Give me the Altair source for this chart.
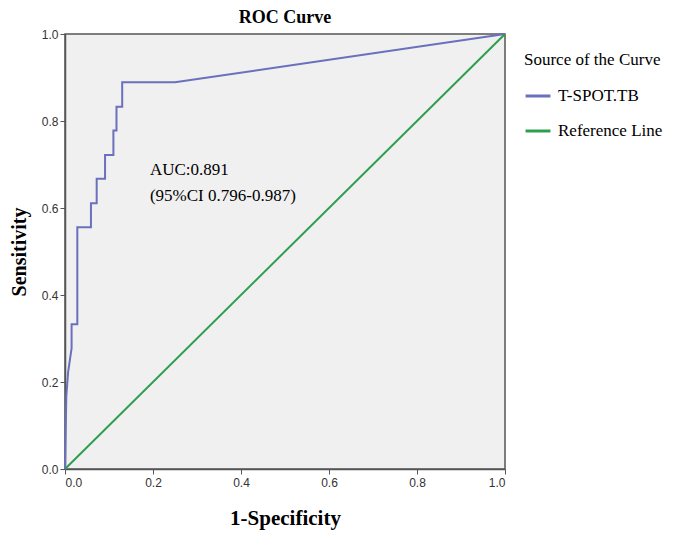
import altair as alt
import pandas as pd

# ROC curve points (1-Specificity, Sensitivity)
roc_fpr = [0.0, 0.003, 0.007, 0.015, 0.015, 0.028, 0.028, 0.059, 0.059, 0.072, 0.072,
           0.091, 0.091, 0.110, 0.110, 0.117, 0.117, 0.130, 0.130, 0.250, 1.0]
roc_tpr = [0.0, 0.167, 0.222, 0.278, 0.333, 0.333, 0.556, 0.556, 0.611, 0.611, 0.667,
           0.667, 0.722, 0.722, 0.778, 0.778, 0.833, 0.833, 0.889, 0.889, 1.0]
ref_fpr = [0.0, 1.0]
ref_tpr = [0.0, 1.0]
series_names = ["T-SPOT.TB", "Reference Line"]
series_colors = ["#6a70bc", "#2e9e4e"]
auc_lines = ["AUC:0.891", "(95%CI 0.796-0.987)"]

rows = []
for i, (x, y) in enumerate(zip(roc_fpr, roc_tpr)):
    rows.append({"x": x, "y": y, "series": series_names[0], "ord": i})
for i, (x, y) in enumerate(zip(ref_fpr, ref_tpr)):
    rows.append({"x": x, "y": y, "series": series_names[1], "ord": i})
df = pd.DataFrame(rows)

serif = "Liberation Serif"
sans = "Liberation Sans"

lines = alt.Chart(df).mark_line(strokeWidth=2).encode(
    x=alt.X("x:Q", scale=alt.Scale(domain=[0, 1], nice=False),
            axis=alt.Axis(values=[0, 0.2, 0.4, 0.6, 0.8, 1.0], format=".1f",
                          title="1-Specificity", titleFont=serif, titleFontSize=21,
                          titleFontWeight="bold", titleColor="black", titlePadding=19,
                          labelFont=sans, labelFontSize=12, labelColor="#333",
                          tickColor="#555", tickSize=5, domainColor="#555",
                          domainWidth=1.5, grid=False, labelPadding=3)),
    y=alt.Y("y:Q", scale=alt.Scale(domain=[0, 1], nice=False),
            axis=alt.Axis(values=[0, 0.2, 0.4, 0.6, 0.8, 1.0], format=".1f",
                          title="Sensitivity", titleFont=serif, titleFontSize=20,
                          titleFontWeight="bold", titleColor="black", titlePadding=12,
                          labelFont=sans, labelFontSize=12, labelColor="#333",
                          tickColor="#555", tickSize=5, domainColor="#555",
                          domainWidth=1.5, grid=False, labelPadding=2)),
    color=alt.Color("series:N",
                    scale=alt.Scale(domain=series_names, range=series_colors),
                    sort=series_names,
                    legend=alt.Legend(title="Source of the Curve", titleFont=serif,
                                      titleFontSize=17, titleFontWeight="normal",
                                      titleColor="black", labelFont=serif,
                                      labelFontSize=17, labelColor="black",
                                      symbolType="stroke", symbolStrokeWidth=3,
                                      symbolSize=620, rowPadding=13, titlePadding=13,
                                      labelOffset=6,
                                      orient="none", legendX=459, legendY=18)),
    order="ord:Q",
    detail="series:N",
)

auc_df = pd.DataFrame({"x": [0.193, 0.193], "y": [0.687, 0.628], "t": auc_lines})
auc = alt.Chart(auc_df).mark_text(align="left", baseline="middle", font=serif,
                                  fontSize=17, color="black").encode(
    x="x:Q", y="y:Q", text="t:N")

chart = (lines + auc).properties(
    width=440, height=435,
    title=alt.TitleParams("ROC Curve", font=serif, fontSize=18, fontWeight="bold",
                          color="black", anchor="middle", offset=1),
    autosize=alt.AutoSizeParams(type="none"),
    padding={"left": 57, "top": 26, "right": 170, "bottom": 62},
    background="white",
).configure_view(fill="#f0f0f0", stroke="#555", strokeWidth=1.5)

chart.save("out.html", embed_options={"renderer": "svg", "actions": False})
